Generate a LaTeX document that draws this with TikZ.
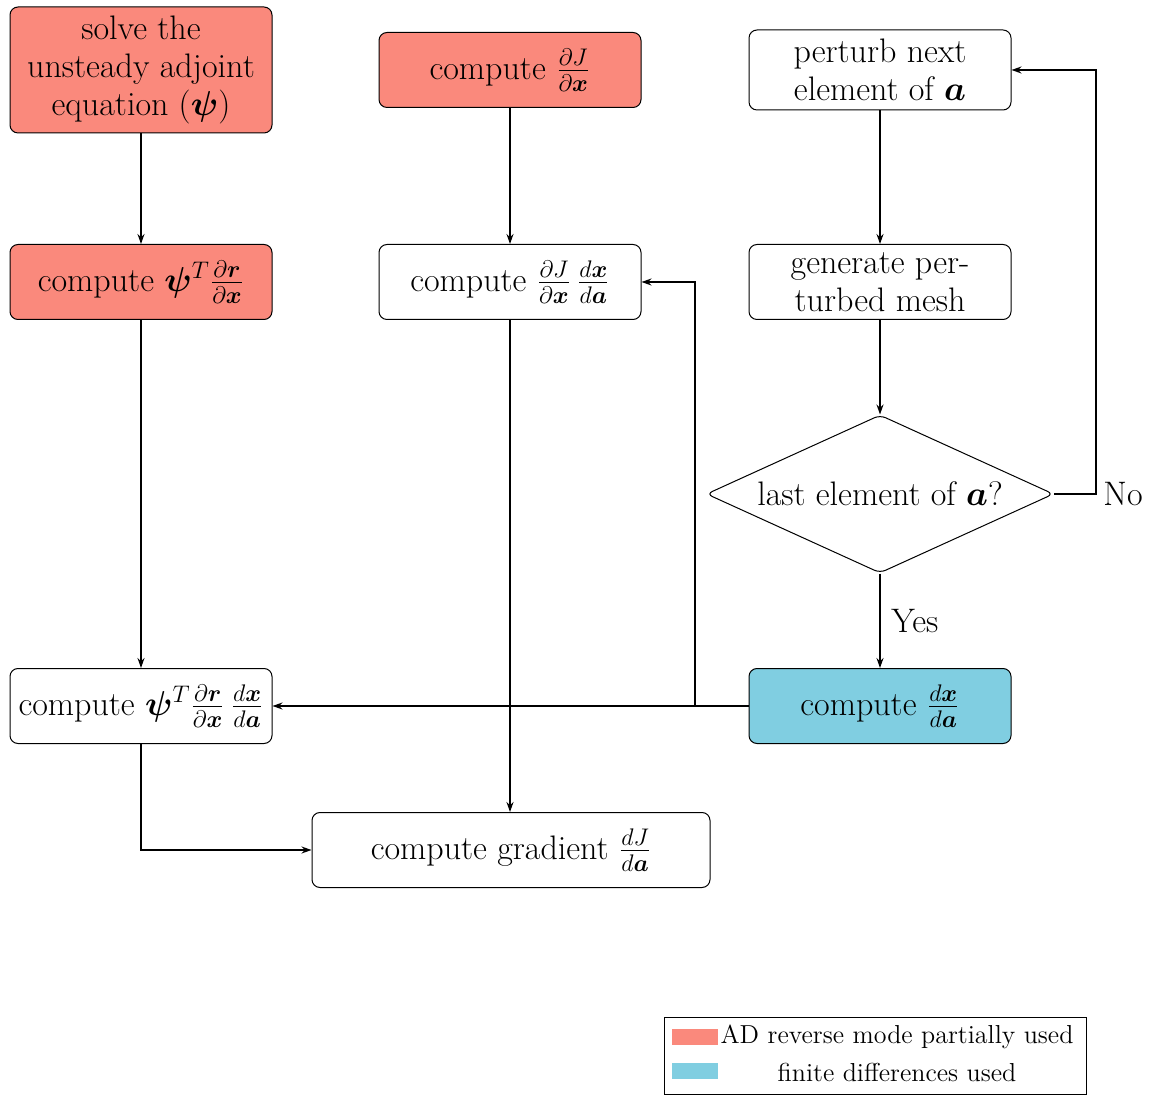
\documentclass[tikz,border=0pt]{standalone}
\usepackage{amsmath}
\usepackage{bm}
\usetikzlibrary{shapes.geometric,arrows.meta}
\definecolor{adred}{RGB}{250,137,124}
\definecolor{fdblue}{RGB}{128,206,225}
\begin{document}
\begin{tikzpicture}[x=0.5pt,y=-0.5pt,
  every node/.style={font=\fontsize{17}{19}\selectfont},
  box/.style={draw,line width=0.5pt,rounded corners=4pt,align=center,
    minimum width=131pt,minimum height=37.5pt,inner sep=2pt},
  adbox/.style={box,fill=adred},
  fdbox/.style={box,fill=fdblue},
  decision/.style={draw,line width=0.5pt,diamond,rounded corners=3pt,
    aspect=2.2,inner sep=0pt,minimum width=173.5pt,minimum height=79pt},
  arr/.style={line width=0.8pt,-{Stealth[length=5pt,width=3.5pt]}},
  legtext/.style={font=\fontsize{13}{16}\selectfont}]
\useasboundingbox (0,0) rectangle (1150,1095);

% process boxes
\node[adbox,minimum height=63pt] (A) at (141,70)
  {solve the\\unsteady adjoint\\equation ($\bm{\psi}$)};
\node[adbox] (B) at (510,70) {compute $\frac{\partial J}{\partial \bm{x}}$};
\node[box,minimum height=40pt] (C) at (880,70) {perturb next\\element of $\bm{a}$};
\node[adbox] (D) at (141,282)
  {compute $\bm{\psi}^T\frac{\partial \bm{r}}{\partial \bm{x}}$};
\node[box] (E) at (510,282)
  {compute $\frac{\partial J}{\partial \bm{x}}\,\frac{d\bm{x}}{d\bm{a}}$};
\node[box] (F) at (880,282) {generate per-\\turbed mesh};
\node[decision] (G) at (880,494) {last element of $\bm{a}$?};
\node[box] (H) at (141,706)
  {compute $\bm{\psi}^T\frac{\partial \bm{r}}{\partial \bm{x}}\,\frac{d\bm{x}}{d\bm{a}}$};
\node[fdbox] (I) at (880,706) {compute $\frac{d\bm{x}}{d\bm{a}}$};
\node[box,minimum width=199pt] (J) at (511,850)
  {compute gradient $\frac{dJ}{d\bm{a}}$};

% connectors
\coordinate (nocorner) at (1096,494);
\coordinate (branch) at (695,706);
\draw[arr] (A) -- (D);
\draw[arr] (D) -- (H);
\draw[arr] (B) -- (E);
\draw[arr] (C) -- (F);
\draw[arr] (F) -- (G);
\draw[arr] (G) -- node[right,xshift=2pt] {Yes} (I);
\draw[arr] (G.east) -- (nocorner) node[right,xshift=0pt] {No} |- (C.east);
\draw[arr] (I.west) -- (H.east);
\draw[arr] (I.west) -- (branch) |- (E.east);
\draw[arr] (E.south) -- (E.south |- J.north);
\draw[arr] (H.south) |- (J.west);

% legend
\node[draw,line width=0.5pt,minimum width=211pt,minimum height=38.5pt,inner sep=0pt]
  (legend) at (875,1055.5) {};
\fill[adred] (672,1029) rectangle (718,1045);
\fill[fdblue] (672,1063) rectangle (718,1079);
\node[legtext] (l1) at (897,1037) {AD reverse mode partially used};
\node[legtext] (l2) at (897,1072) {finite differences used};
\end{tikzpicture}
\end{document}
